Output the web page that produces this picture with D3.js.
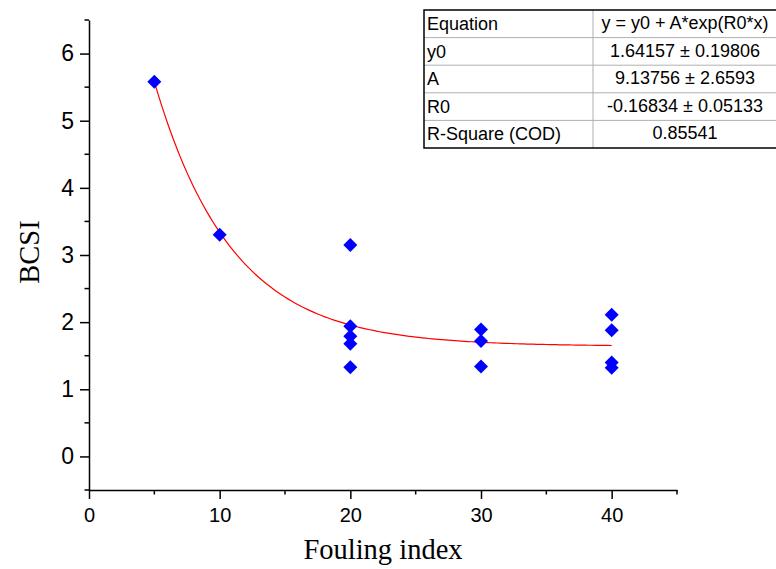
<!DOCTYPE html>
<html><head><meta charset="utf-8">
<script src="https://cdn.jsdelivr.net/npm/d3@7"></script>
<style>body{margin:0;background:#fff}svg{display:block}</style>
</head><body>
<script>
const foulingIndex = [5, 10, 20, 20, 20, 20, 20, 30, 30, 30, 40, 40, 40, 40];
const bcsi = [5.58, 3.30, 3.15, 1.94, 1.79, 1.68, 1.33, 1.89, 1.72, 1.34, 2.11, 1.88, 1.40, 1.32];
const xTicks = [0, 10, 20, 30, 40];
const yTicks = [0, 1, 2, 3, 4, 5, 6];
const fitParams = {y0: 1.64157, A: 9.13756, R0: -0.16834};
const fitRange = [5, 40];
const tableLabels = ["Equation", "y0", "A", "R0", "R-Square (COD)"];
const tableValues = ["y = y0 + A*exp(R0*x)", "1.64157 ± 0.19806", "9.13756 ± 2.6593", "-0.16834 ± 0.05133", "0.85541"];

const W = 776, H = 569;
const svg = d3.select("body").append("svg").attr("width", W).attr("height", H);
const x = d3.scaleLinear().domain([0, 45]).range([89, 677]);
const y = d3.scaleLinear().domain([-0.5, 6.5]).range([490, 20]);
const sans = "'Liberation Sans', Arial, sans-serif";
const serif = "'Liberation Serif', 'Times New Roman', serif";

// axes
const xAxis = d3.axisBottom(x).tickValues(xTicks).tickFormat(d3.format("d")).tickSize(9).tickPadding(9).tickSizeOuter(0);
const gx = svg.append("g").attr("transform", "translate(0,490)").call(xAxis);
gx.selectAll("text").style("font-family", sans).style("font-size", "20px").attr("fill", "#000");
const xMinor = d3.range(5, 46, 10);
gx.selectAll(".minor").data(xMinor).enter().append("line")
  .attr("x1", d => x(d)).attr("x2", d => x(d)).attr("y1", 0).attr("y2", 4.5).attr("stroke", "#000").attr("stroke-width", 1.5);

const yAxis = d3.axisLeft(y).tickValues(yTicks).tickFormat(d3.format("d")).tickSize(9).tickPadding(6).tickSizeOuter(0);
const gy = svg.append("g").attr("transform", "translate(89,0)").call(yAxis);
gy.selectAll("text").style("font-family", sans).style("font-size", "23px").attr("fill", "#000");
const yMinor = d3.range(-0.5, 6.6, 1);
gy.selectAll(".minor").data(yMinor).enter().append("line")
  .attr("x1", 0).attr("x2", -4.5).attr("y1", d => y(d)).attr("y2", d => y(d)).attr("stroke", "#000").attr("stroke-width", 1.5);
svg.selectAll(".domain").attr("stroke", "#000").attr("stroke-width", 1.5);
svg.selectAll(".tick line").attr("stroke", "#000").attr("stroke-width", 1.5);

// axis titles
svg.append("text").attr("x", 383).attr("y", 559).attr("text-anchor", "middle")
  .style("font-family", serif).style("font-size", "28.5px").text("Fouling index");
svg.append("text").attr("transform", "translate(39,252) rotate(-90)").attr("text-anchor", "middle")
  .style("font-family", serif).style("font-size", "28.5px").text("BCSI");

// fit curve (from fit parameters)
const curveX = d3.range(fitRange[0], fitRange[1] + 0.001, 0.25);
const line = d3.line().x(d => x(d)).y(d => y(fitParams.y0 + fitParams.A * Math.exp(fitParams.R0 * d)));
svg.append("path").datum(curveX).attr("d", line).attr("fill", "none").attr("stroke", "#ff0000").attr("stroke-width", 1.2);

// points
const diamond = d3.symbol().type(d3.symbolSquare).size(98);
svg.selectAll(".pt").data(foulingIndex.map((d, i) => [d, bcsi[i]])).enter().append("path")
  .attr("d", diamond)
  .attr("transform", d => `translate(${x(d[0])},${y(d[1])}) rotate(45)`)
  .attr("fill", "#0000ff");

// table
const tx = 424, ty = 10, rowH = 27.6, c1 = 593, tr = 776;
const tg = svg.append("g");
tg.append("rect").attr("x", tx).attr("y", ty).attr("width", tr - tx).attr("height", rowH * 5).attr("fill", "#fff");
for (let i = 1; i < 5; i++) {
  tg.append("line").attr("x1", tx).attr("x2", tr).attr("y1", ty + rowH * i).attr("y2", ty + rowH * i).attr("stroke", "#b0b0b0").attr("stroke-width", 1);
}
tg.append("line").attr("x1", c1).attr("x2", c1).attr("y1", ty).attr("y2", ty + rowH * 5).attr("stroke", "#b0b0b0").attr("stroke-width", 1);
tg.append("rect").attr("x", tx).attr("y", ty).attr("width", tr - tx + 2).attr("height", rowH * 5).attr("fill", "none").attr("stroke", "#000").attr("stroke-width", 1.5);
tableLabels.forEach((t, i) => {
  tg.append("text").attr("x", tx + 3).attr("y", ty + rowH * i + 20).style("font-family", sans).style("font-size", "18px").text(t);
});
tableValues.forEach((t, i) => {
  tg.append("text").attr("x", 685).attr("y", ty + rowH * i + 19).attr("text-anchor", "middle").style("font-family", sans).style("font-size", "18px").text(t);
});
</script>
</body></html>
